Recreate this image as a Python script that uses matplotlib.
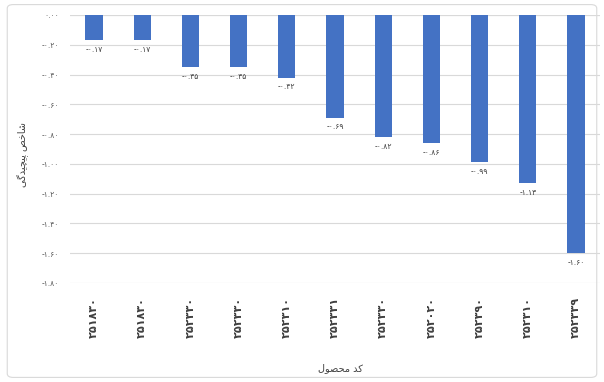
import matplotlib as mpl
mpl.use('Agg')
import matplotlib.pyplot as plt
from matplotlib.patches import FancyBboxPatch

# Persian digits
FA = str.maketrans('0123456789', '۰۱۲۳۴۵۶۷۸۹')

codes = ['۲۵۱۸۳۰', '۲۵۱۸۳۰', '۲۵۲۳۳۰', '۲۵۲۳۳۰', '۲۵۲۳۱۰', '۲۵۲۳۳۱',
         '۲۵۲۳۳۰', '۲۵۲۰۲۰', '۲۵۲۳۹۰', '۲۵۲۳۱۰', '۲۵۲۳۳۹']
values = [-0.17, -0.17, -0.35, -0.35, -0.42, -0.69, -0.82, -0.86, -0.99, -1.13, -1.60]
yticks = [0.0, -0.2, -0.4, -0.6, -0.8, -1.0, -1.2, -1.4, -1.6, -1.8]

# shaped (presentation forms, visual order)
ylab = '\uFBFD\uFB94\uFEAA\uFBFF\uFB7D\uFBFF\uFB58 \uFEBA\uFEA7\uFE8E\uFEB7'   # شاخص پیچیدگی
xlab = '\uFEDD\uFEEE\uFEBC\uFEA4\uFEE3 \uFEAA\uFB90'                          # کد محصول

plt.rcParams['font.family'] = ['DejaVu Sans']

def fa(v):
    s = '%.2f' % abs(v)
    return ('-' if v < 0 else '') + s.translate(FA)

fig = plt.figure(figsize=(6.04, 3.82), dpi=100)
fig.patches.append(FancyBboxPatch((0.012, 0.012), 0.976, 0.976, boxstyle='round,pad=0,rounding_size=0.01',
                                  transform=fig.transFigure, fill=False, edgecolor='#d9d9d9', lw=0.8))
ax = fig.add_axes([70/604, 1-283/382, 530/604, 268/382])

x = list(range(len(values)))
ax.bar(x, values, width=0.36, color='#4472C4', zorder=3)
for xi, v in zip(x, values):
    ax.text(xi, v - 0.03, fa(v), ha='center', va='top', fontsize=5.5, color='#404040')

ax.set_ylim(-1.8, 0)
ax.set_xlim(-0.5, len(values) - 0.5)
ax.set_yticks(yticks)
ax.set_yticklabels([fa(t) if t != 0 else '۰.۰۰' for t in yticks], fontsize=5.5, color='#595959')
ax.yaxis.grid(True, color='#d9d9d9', lw=0.8, zorder=0)
ax.tick_params(axis='both', length=0)
ax.tick_params(axis='y', pad=8)
for s in ax.spines.values():
    s.set_visible(False)
ax.axhline(0, color='#d9d9d9', lw=0.8, zorder=1)

ax.set_xticks(x)
ax.set_xticklabels([])
for xi, c in zip(x, codes):
    ax.annotate(c, xy=(xi, -1.8), xytext=(0, -10), textcoords='offset points', rotation=90,
                ha='center', va='top', fontsize=8, fontweight='bold', color='#404040',
                annotation_clip=False)

fig.text(340/604, 1-368/382, xlab, ha='center', va='center', fontsize=7, color='#404040')
fig.text(23/604, 1-155/382, ylab, ha='center', va='center', rotation=90, fontsize=7, color='#404040')

fig.savefig('out.png', dpi=100)
